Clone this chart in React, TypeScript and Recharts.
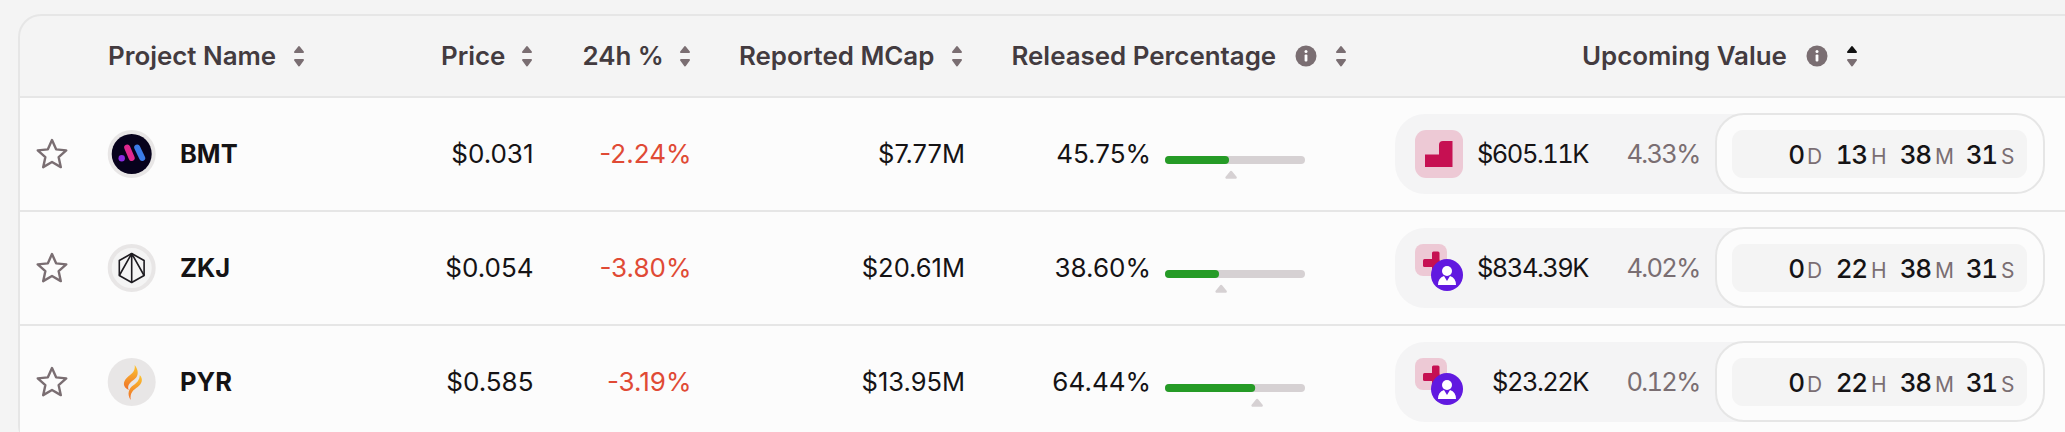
import React from "react";
import { ComposedChart, Bar, XAxis, YAxis, ReferenceDot } from "recharts";

const projects = ["BMT", "ZKJ", "PYR"];
const prices = ["$0.031", "$0.054", "$0.585"];
const changes = ["-2.24%", "-3.80%", "-3.19%"];
const mcaps = ["$7.77M", "$20.61M", "$13.95M"];
const released = [45.75, 38.6, 64.44];
const markers = [47.2, 40.1, 65.8];
const upcomingValues = ["$605.11K", "$834.39K", "$23.22K"];
const upcomingPcts = ["4.33%", "4.02%", "0.12%"];
const days = ["0", "0", "0"];
const hours = ["13", "22", "22"];
const minutes = ["38", "38", "38"];
const seconds = ["31", "31", "31"];
const headers = ["Project Name", "Price", "24h %", "Reported MCap", "Released Percentage", "Upcoming Value"];

const data = projects.map((project, i) => ({ project, released: released[i] }));

const W = 2065;
const H = 432;
const ROW_H = 114;
const HEAD_BOTTOM = 97;
const FONT = "Inter, 'Noto Sans', sans-serif";
const INK = "#151315";
const HEAD = "#433b3f";
const MUTED = "#7a6e72";
const LINE = "#e6e6e6";

function SortArrows({ x, active }: { x: number; active?: boolean }) {
  return (
    <g strokeLinejoin="round" strokeWidth={2}>
      <path d={`M${x - 4} 52 L${x + 4} 52 L${x} 47 Z`} fill={active ? "#111" : MUTED} stroke={active ? "#111" : MUTED} />
      <path d={`M${x - 4} 60 L${x + 4} 60 L${x} 65.5 Z`} fill={MUTED} stroke={MUTED} />
    </g>
  );
}

function InfoIcon({ x }: { x: number }) {
  return (
    <g>
      <circle cx={x} cy={56} r={10.5} fill={MUTED} />
      <circle cx={x} cy={51.5} r={1.5} fill="#fff" />
      <rect x={x - 1.4} y={54.5} width={2.8} height={7} rx={1} fill="#fff" />
    </g>
  );
}

function Star({ cx, cy }: { cx: number; cy: number }) {
  const pts = [];
  for (let i = 0; i < 10; i++) {
    const r = i % 2 === 0 ? 15 : 7;
    const a = -Math.PI / 2 + (i * Math.PI) / 5;
    pts.push(`${cx + r * Math.cos(a)},${cy + 1 + r * Math.sin(a)}`);
  }
  return <polygon points={pts.join(" ")} fill="none" stroke={MUTED} strokeWidth={2.4} strokeLinejoin="round" />;
}

function Logo({ name, cy }: { name: string; cy: number }) {
  const cx = 131.7;
  if (name === "BMT") {
    return (
      <g transform={`translate(${cx} ${cy})`}>
        <circle r={24} fill="#e8e6e6" />
        <circle r={20} fill="#07021c" />
        <circle cx={-10} cy={4.3} r={3.2} fill="#8a2be2" />
        <line x1={-4.5} y1={-6.5} x2={0} y2={4} stroke="#e0288f" strokeWidth={6} strokeLinecap="round" />
        <line x1={5.5} y1={-6.5} x2={10.5} y2={4} stroke="#3b7be8" strokeWidth={6} strokeLinecap="round" />
      </g>
    );
  }
  if (name === "ZKJ") {
    return (
      <g transform={`translate(${cx} ${cy})`} fill="none" stroke="#1d1b20" strokeWidth={1.6} strokeLinejoin="round">
        <circle r={22} fill="#f4f4f4" stroke="#e8e6e6" strokeWidth={4} />
        <path d="M0 -14.5 L12.4 -7.5 L12.4 7.5 L0 14.5 L-12.4 7.5 L-12.4 -7.5 Z" />
        <path d="M0 -14.5 L-12.4 7.5 M0 -14.5 L0 14.5 M0 -14.5 L12.4 7.5" />
      </g>
    );
  }
  return (
    <g transform={`translate(${cx} ${cy})`}>
      <defs>
        <linearGradient id="flame" x1="0" y1="0" x2="0" y2="1">
          <stop offset="0" stopColor="#fcc52e" />
          <stop offset="1" stopColor="#ee6f2a" />
        </linearGradient>
      </defs>
      <circle r={24} fill="#e8e6e6" />
      <path d="M3 -17 C4 -10 -1 -8 -5 -4 C-9 0 -9 5 -3 8 C-5 3 -1 0 3 -3 C7 -6 7 -12 3 -17 Z" fill="url(#flame)" />
      <path d="M8 -7 C12 -3 10 2 6 5 C2 8 -2 10 -1 18 C-5 12 -3 6 2 3 C5 1 8 -2 8 -7 Z" fill="url(#flame)" />
    </g>
  );
}

function UnlockIcon({ index, cy }: { index: number; cy: number }) {
  if (index === 0) {
    return (
      <g>
        <rect x={1415} y={cy - 24} width={48} height={48} rx={11} fill="#edc9d5" />
        <path d={`M1439 ${cy - 9} Q1439 ${cy - 13} 1443 ${cy - 13} L1452.5 ${cy - 13} L1452.5 ${cy + 13} L1425 ${cy + 13} L1425 ${cy + 0.5} L1439 ${cy + 0.5} Z`} fill="#c61052" />
      </g>
    );
  }
  const top = cy - 24;
  return (
    <g>
      <rect x={1415} y={top} width={32} height={32} rx={8} fill="#edc9d5" />
      <rect x={1432} y={top + 7.5} width={7.5} height={22} rx={1.5} fill="#c61052" />
      <rect x={1423} y={top + 15} width={16.5} height={8} rx={1.5} fill="#c61052" />
      <circle cx={1447} cy={top + 31} r={16} fill="#6119e0" />
      <circle cx={1447} cy={top + 27} r={5} fill="#fff" />
      <path d={`M1438 ${top + 41} q0 -7 6 -9 l3 5 l3 -5 q6 2 6 9 Z`} fill="#fff" />
    </g>
  );
}

function Countdown({ cy, i }: { cy: number; i: number }) {
  const base = cy + 10;
  const num = {
    fontSize: 26,
    fontWeight: 500,
    fill: INK,
    textAnchor: "end" as const,
    letterSpacing: -1.2,
    style: { fontVariantNumeric: "tabular-nums" },
  };
  const unit = { fontSize: 21, fontWeight: 400, fill: MUTED, letterSpacing: 0 };
  return (
    <g>
      <text x={1804} y={base} {...num}>{days[i]}</text>
      <text x={1807} y={base} {...unit}>D</text>
      <text x={1867} y={base} {...num}>{hours[i]}</text>
      <text x={1871} y={base} {...unit}>H</text>
      <text x={1931} y={base} {...num}>{minutes[i]}</text>
      <text x={1935} y={base} {...unit}>M</text>
      <text x={1997} y={base} {...num}>{seconds[i]}</text>
      <text x={2001} y={base} {...unit}>S</text>
    </g>
  );
}

// the axis tick draws everything in a row that is not the progress bar
function RowTick({ y, index }: any) {
  const cy = y - 6;
  const base = cy + 9;
  const cell = { fontSize: 26, fontWeight: 400, fill: INK, textAnchor: "end" as const };
  const tight = { ...cell, fontSize: 25.5, letterSpacing: -1.5, style: { fontVariantNumeric: "tabular-nums" } };
  return (
    <g fontFamily={FONT}>
      <Star cx={52} cy={cy} />
      <Logo name={projects[index]} cy={cy} />
      <text x={180} y={base} fontSize={25.5} fontWeight={700} fill={INK}>{projects[index]}</text>
      <text x={533.5} y={base} {...cell}>{prices[index]}</text>
      <text x={691.5} y={base} {...cell} fill="#e04a35">{changes[index]}</text>
      <text x={965} y={base} {...cell} fontSize={25.5}>{mcaps[index]}</text>
      <text x={1151} y={base} {...cell}>{released[index].toFixed(2)}%</text>
      <rect x={1395} y={cy - 40} width={400} height={80} rx={30} fill="#f4f4f5" />
      <UnlockIcon index={index} cy={cy} />
      <text x={1588} y={base} {...tight}>{upcomingValues[index]}</text>
      <text x={1699.5} y={base} {...tight} letterSpacing={-1.7} fill={MUTED}>{upcomingPcts[index]}</text>
      <rect x={1716} y={cy - 40} width={328} height={79} rx={28} fill="#fcfcfc" stroke={LINE} strokeWidth={2} />
      <rect x={1732} y={cy - 24} width={295} height={48} rx={11} fill="#f4f4f4" />
      <Countdown cy={cy} i={index} />
    </g>
  );
}

const Marker = ({ cx, cy }: any) => (
  <path
    d={`M${cx - 4.5} ${cy + 17.5} L${cx + 4.5} ${cy + 17.5} L${cx} ${cy + 12} Z`}
    fill="#d6d1d3"
    stroke="#d6d1d3"
    strokeWidth={2.5}
    strokeLinejoin="round"
  />
);

function TableBack() {
  const head = { fontSize: 25.9, fontWeight: 600, fill: HEAD };
  return (
    <svg width={W} height={H} style={{ position: "absolute", left: 0, top: 0 }} fontFamily={FONT}>
      <rect width={W} height={H} fill="#f4f4f4" />
      <rect x={19} y={15} width={W + 40} height={H} rx={22} fill="#f4f4f4" stroke={LINE} strokeWidth={2} />
      <rect x={20} y={HEAD_BOTTOM} width={W} height={H} fill="#fcfcfc" />
      {[0, 1, 2].map((i) => (
        <line key={i} x1={20} x2={W} y1={HEAD_BOTTOM + i * ROW_H} y2={HEAD_BOTTOM + i * ROW_H} stroke={LINE} strokeWidth={2} />
      ))}
      <text x={108} y={65} {...head}>{headers[0]}</text>
      <SortArrows x={299} />
      <text x={441} y={65} {...head}>{headers[1]}</text>
      <SortArrows x={527} />
      <text x={582.5} y={65} {...head}>{headers[2]}</text>
      <SortArrows x={685} />
      <text x={739} y={65} {...head}>{headers[3]}</text>
      <SortArrows x={957} />
      <text x={1011.5} y={65} {...head}>{headers[4]}</text>
      <InfoIcon x={1306} />
      <SortArrows x={1341} />
      <text x={1582} y={65} {...head}>{headers[5]}</text>
      <InfoIcon x={1817} />
      <SortArrows x={1852} active />
    </svg>
  );
}

export default function App() {
  return (
    <div style={{ position: "fixed", left: 0, top: 0, width: W, height: H, overflow: "hidden" }}>
      <TableBack />
      <div style={{ position: "absolute", left: 0, top: 0 }}>
        <ComposedChart
          width={W}
          height={460}
          data={data}
          layout="vertical"
          margin={{ top: HEAD_BOTTOM + 6, right: W - 1305, bottom: 460 - (HEAD_BOTTOM + 6) - 3 * ROW_H, left: 1164 }}
        >
          <XAxis type="number" domain={[0, 100]} hide />
          <YAxis
            type="category"
            dataKey="project"
            width={1}
            interval={0}
            axisLine={false}
            tickLine={false}
            tick={RowTick}
          />
          <Bar
            dataKey="released"
            barSize={8}
            radius={4}
            fill="#259b26"
            background={{ fill: "#d6d1d3", radius: 4 }}
            isAnimationActive={false}
          />
          {projects.map((p, i) => (
            <ReferenceDot key={p} x={markers[i]} y={p} shape={Marker} />
          ))}
        </ComposedChart>
      </div>
    </div>
  );
}
